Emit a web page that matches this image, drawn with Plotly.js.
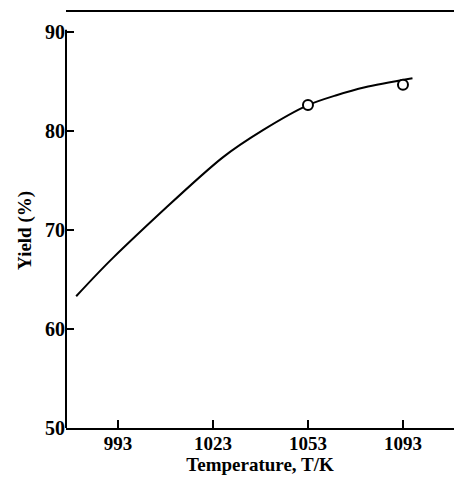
<!DOCTYPE html>
<html>
<head>
<meta charset="utf-8">
<script src="https://cdn.plot.ly/plotly-3.0.1.min.js"></script>
<style>html,body{margin:0;padding:0;background:#fff;}#chart{width:454px;height:477px;}</style>
</head>
<body>
<div id="chart"></div>
<script>
// Tick labels (the axis is drawn with evenly spaced temperature categories)
const tempLabels = ['993', '1023', '1053', '1093'];
const tempPositions = [0, 1, 2, 3];

// Measured points visible in the figure (yield %, at 1053 K and 1093 K)
const pointPos = [2, 3];
const pointYield = [82.6, 84.65];

// Fitted trend curve (position on temperature axis, yield %)
const curvePos = [-0.44, -0.05, 1.10, 1.53, 2.0, 2.3, 2.6, 3.10];
const curveYield = [63.3, 67.2, 77.3, 80.1, 82.6, 83.6, 84.4, 85.3];

const fontFam = '"Liberation Serif", "DejaVu Serif", serif';

const traces = [
  {
    x: curvePos, y: curveYield, type: 'scatter', mode: 'lines',
    line: {color: '#000', width: 2, shape: 'spline', smoothing: 0.8},
    hoverinfo: 'skip', showlegend: false
  },
  {
    x: pointPos, y: pointYield, type: 'scatter', mode: 'markers',
    marker: {symbol: 'circle', size: 10, color: '#fff', line: {color: '#000', width: 2}},
    showlegend: false
  }
];

const layout = {
  width: 454, height: 477,
  margin: {l: 66, r: 0, t: 12, b: 49},
  paper_bgcolor: '#fff', plot_bgcolor: '#fff',
  showlegend: false,
  font: {family: fontFam, color: '#000'},
  xaxis: {
    range: [-0.547, 3.537],
    tickvals: tempPositions, ticktext: tempLabels,
    showgrid: false, zeroline: false,
    showline: true, linecolor: '#000', linewidth: 2, mirror: true,
    ticks: 'inside', ticklen: 8, tickwidth: 2, tickcolor: '#000',
    ticklabelstandoff: -3,
    tickfont: {family: fontFam, size: 19, color: '#000', weight: 'bold'},
    title: {text: 'Temperature, T/K', font: {family: fontFam, size: 19, color: '#000', weight: 'bold'}, standoff: 1}
  },
  yaxis: {
    range: [50, 92.0],
    tickvals: [50, 60, 70, 80, 90],
    showgrid: false, zeroline: false,
    showline: false,
    ticks: 'inside', ticklen: 8, tickwidth: 2, tickcolor: '#000',
    tickfont: {family: fontFam, size: 20, color: '#000', weight: 'bold'}
  },
  annotations: [
    {text: 'Yield (%)', xref: 'paper', yref: 'y', x: -0.1057, y: 70,
     textangle: -90, showarrow: false, xanchor: 'center', yanchor: 'middle',
     font: {family: fontFam, size: 19, color: '#000', weight: 'bold'}}
  ],
  shapes: [
    {type: 'line', xref: 'paper', yref: 'y', x0: 0, x1: 0, y0: 50, y1: 90.2,
     line: {color: '#000', width: 2}}
  ]
};

Plotly.newPlot('chart', traces, layout, {displayModeBar: false, staticPlot: true});
</script>
</body>
</html>
